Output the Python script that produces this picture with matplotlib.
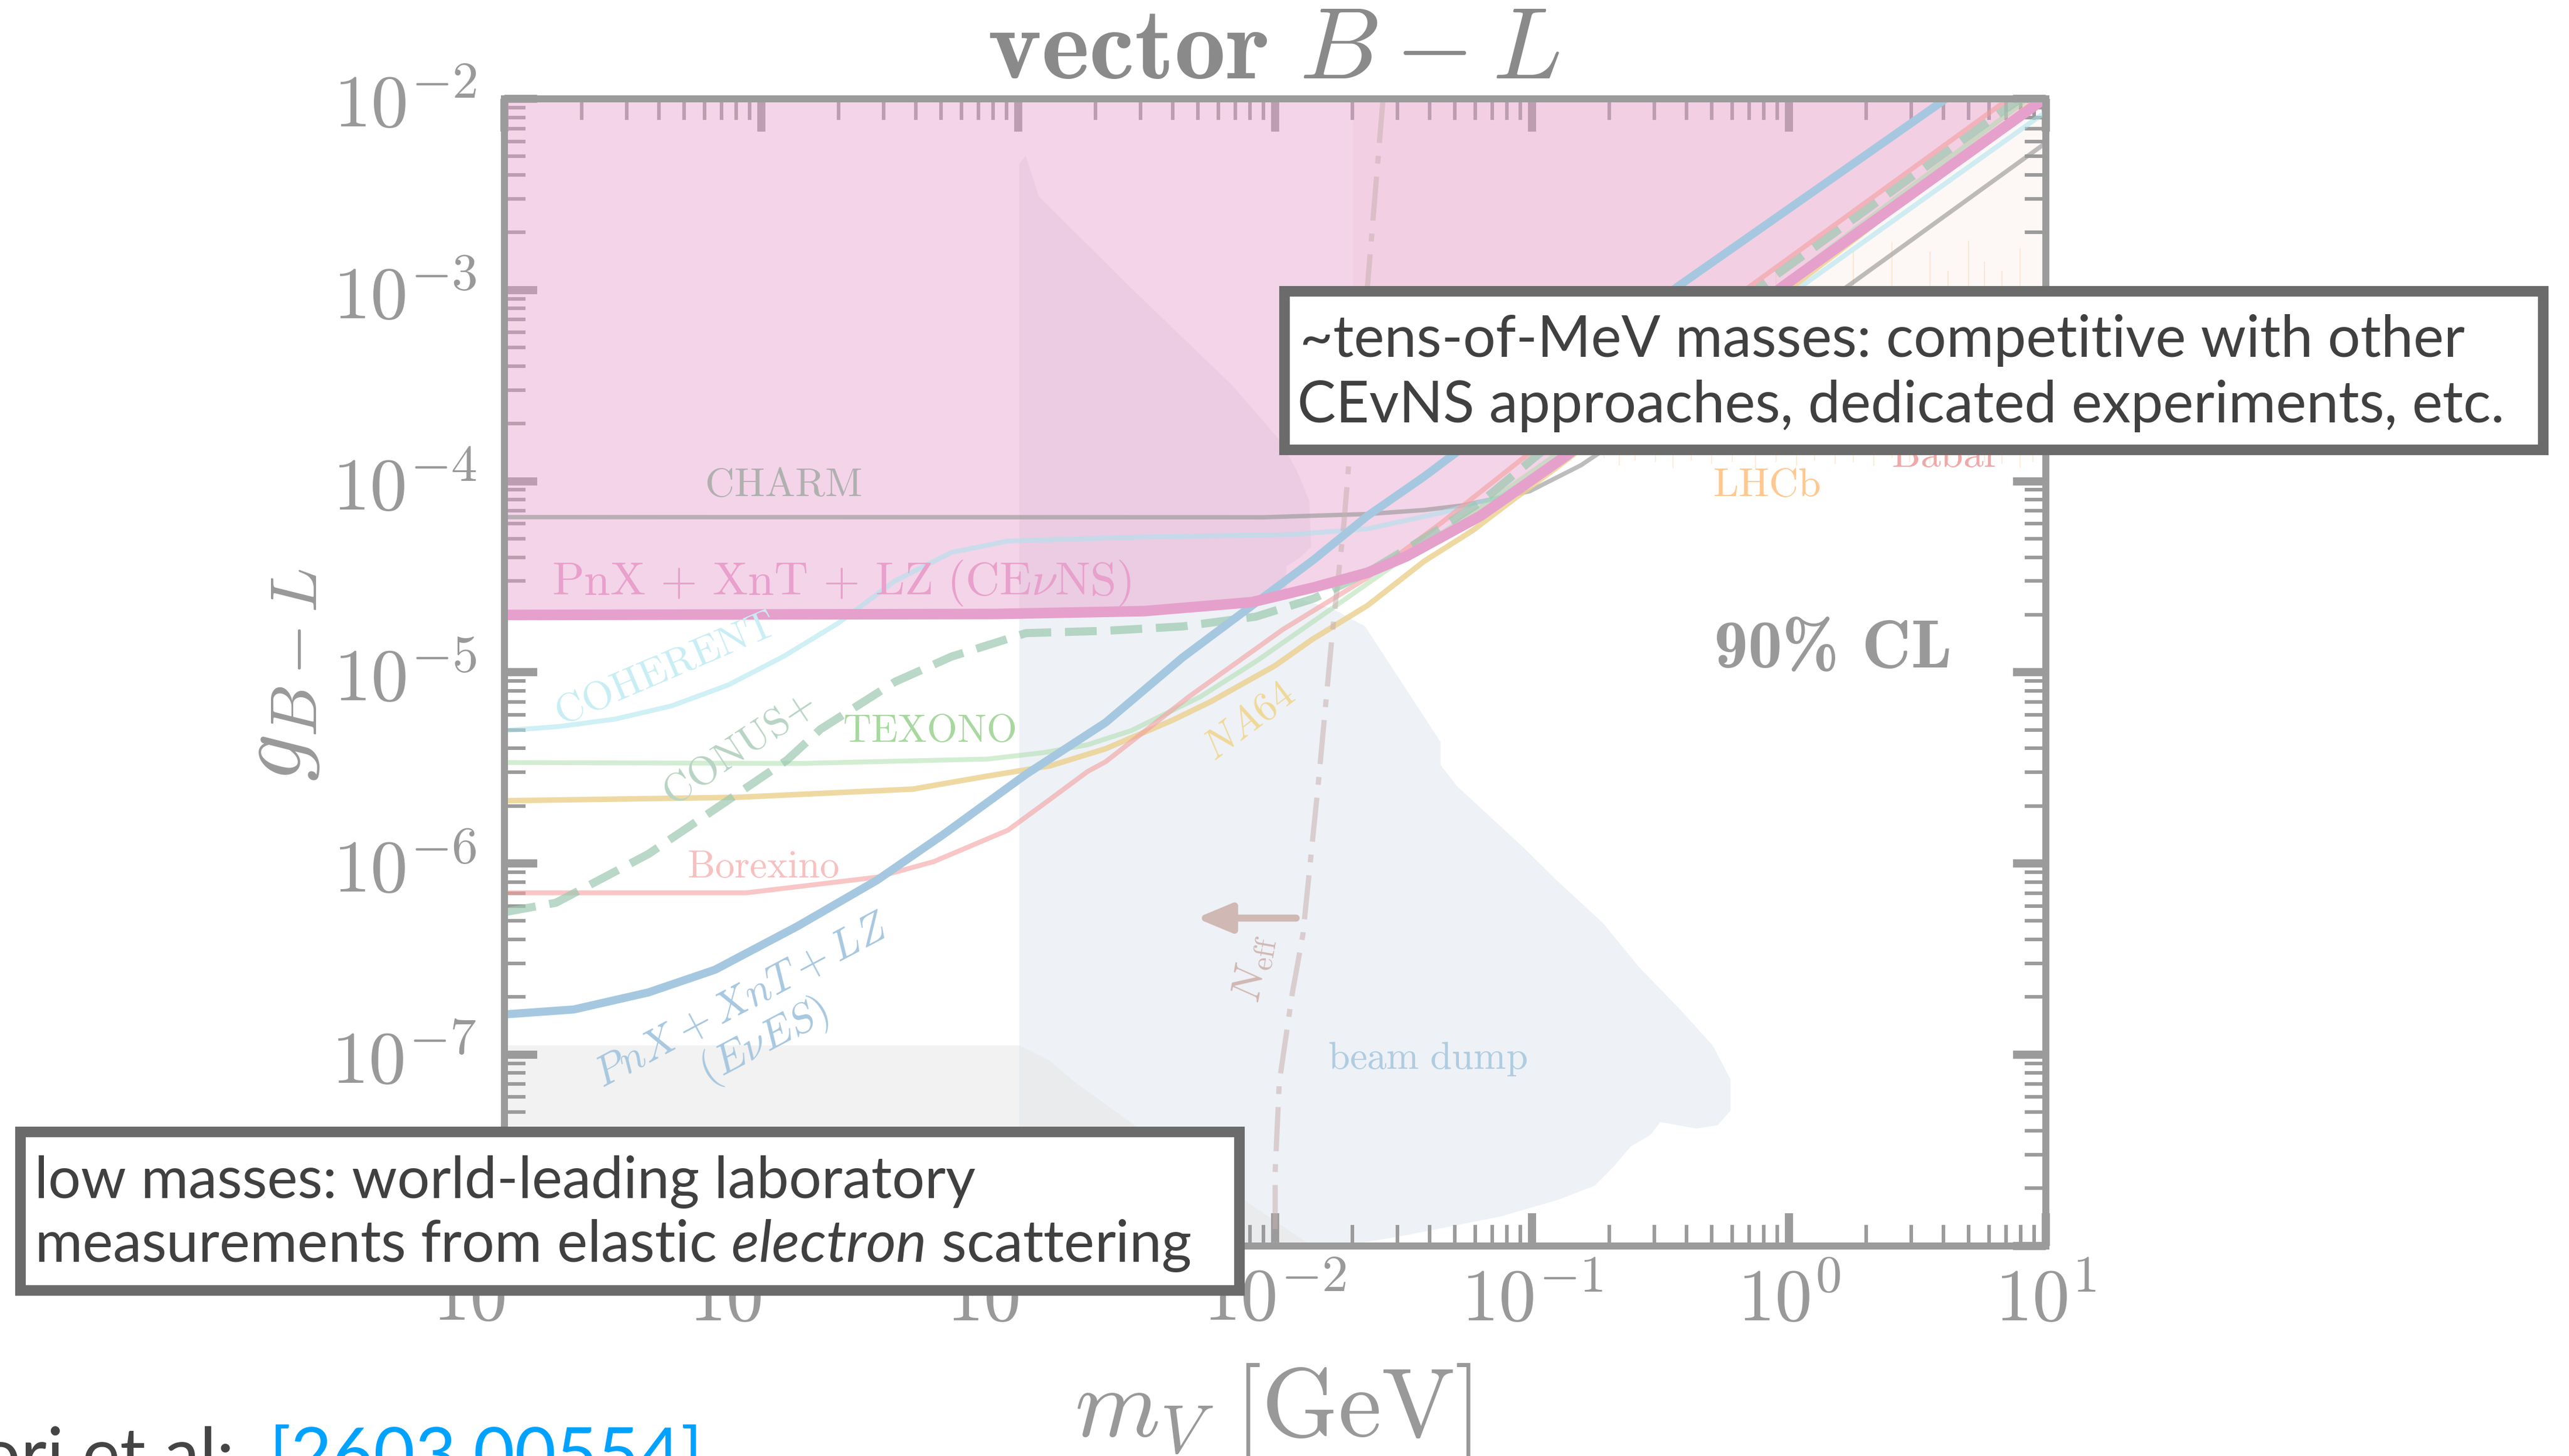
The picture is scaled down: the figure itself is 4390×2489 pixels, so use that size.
import numpy as np
import matplotlib
matplotlib.use("Agg")
import matplotlib.pyplot as plt
from matplotlib.patches import Rectangle
from matplotlib.ticker import LogLocator, FuncFormatter, NullFormatter

plt.rcParams['mathtext.fontset'] = 'cm'
# used only by texts that ask for math_fontfamily='custom'
plt.rcParams['mathtext.rm'] = 'Lato'
plt.rcParams['mathtext.it'] = 'Lato:italic'
plt.rcParams['mathtext.bf'] = 'Lato:bold'

# all curves as log10(m_V / GeV) and log10(g_{B-L})
cevns_m = [-5.0, -3.09, -2.51, -2.09, -1.85, -1.64, -1.49, -1.20, -0.865, -0.02, 0.97, 1.0]
cevns_g = [-4.70, -4.695, -4.68, -4.633, -4.556, -4.479, -4.394, -4.181, -3.865, -2.978, -2.022, -1.99]

eves_m = [-5.0, -4.73, -4.44, -4.18, -3.86, -3.55, -3.29, -2.97, -2.66, -2.36, -2.08, -1.85, -1.64, -1.42, -0.43, 0.58, 0.62]
eves_g = [-6.79, -6.764, -6.675, -6.556, -6.329, -6.088, -5.847, -5.534, -5.263, -4.922, -4.641, -4.411, -4.181, -3.976, -2.979, -2.029, -1.99]

conus_m = [-5.0, -4.80, -4.44, -4.15, -3.90, -3.77, -3.48, -3.26, -2.97, -2.66, -2.36, -2.075, -1.85, -1.64, -1.42, -1.20, -0.98, -0.08, 0.84, 1.0]
conus_g = [-6.255, -6.206, -5.951, -5.688, -5.459, -5.298, -5.050, -4.918, -4.795, -4.783, -4.760, -4.709, -4.614, -4.477, -4.300, -4.110, -3.865, -2.951, -2.056, -1.91]

coherent_m = [-5.0, -4.79, -4.57, -4.35, -4.13, -3.915, -3.70, -3.48, -3.26, -3.04, -2.51, -1.93, -1.64, -1.35, -1.13, -0.91, 0.05, 0.97, 1.0]
coherent_g = [-5.305, -5.284, -5.245, -5.176, -5.067, -4.918, -4.742, -4.522, -4.373, -4.313, -4.292, -4.279, -4.249, -4.164, -4.084, -3.908, -2.979, -2.096, -2.07]

texono_m = [-5.0, -3.85, -3.12, -2.90, -2.73, -2.56, -2.29, -2.07, -1.78, -1.49, -1.20, -0.91, 0.88, 1.0]
texono_g = [-5.472, -5.477, -5.454, -5.420, -5.379, -5.305, -5.127, -4.939, -4.667, -4.394, -4.138, -3.865, -2.05, -1.93]

na64_m = [-5.0, -4.09, -3.41, -3.12, -2.875, -2.66, -2.40, -2.25, -2.0, -1.857, -1.64, -1.42, -1.23, -1.06, -0.91, 0.92, 1.0]
na64_g = [-5.672, -5.654, -5.611, -5.543, -5.489, -5.400, -5.251, -5.153, -4.965, -4.829, -4.650, -4.419, -4.257, -4.083, -3.934, -2.05, -1.97]

borexino_m = [-5.0, -4.06, -3.55, -3.33, -3.04, -2.91, -2.73, -2.66, -2.335, -1.97, -1.64, -1.35, -1.01, -0.15, 0.84, 1.0]
borexino_g = [-6.154, -6.154, -6.072, -5.991, -5.826, -5.698, -5.519, -5.468, -5.127, -4.776, -4.504, -4.215, -3.853, -2.979, -2.014, -1.85]

charm_m = [-5.0, -2.045, -1.64, -1.42, -1.27, -1.01, -0.81, 0.23, 1.0]
charm_g = [-4.188, -4.189, -4.172, -4.151, -4.127, -4.053, -3.917, -2.979, -2.23]

neff_m = [-1.58, -1.64, -1.71, -1.733, -1.778, -1.833, -1.892, -1.934, -1.984, -2.0, -2.0]
neff_g = [-2.0, -2.97, -3.853, -4.232, -4.803, -5.596, -6.372, -6.685, -7.147, -7.616, -8.0]

beamdump_m = [-2.996, -2.996, -2.971, -2.92, -2.556, -2.167, -1.975, -1.911, -1.867, -1.86, -1.905,
              -1.956, -1.956, -1.777, -1.65, -1.356, -1.356, -1.292, -1.031, -0.903, -0.724, -0.584,
              -0.424, -0.297, -0.227, -0.227, -0.278, -0.361, -0.501, -0.539, -0.616, -0.68, -0.756,
              -0.903, -1.126, -1.509, -1.733]
beamdump_g = [-8.0, -2.34, -2.297, -2.51, -2.996, -3.499, -3.797, -3.959, -4.104, -4.343, -4.402,
              -4.445, -4.598, -4.667, -4.76, -5.365, -5.485, -5.596, -5.92, -6.09, -6.312, -6.542,
              -6.764, -6.952, -7.131, -7.293, -7.37, -7.387, -7.353, -7.421, -7.481, -7.583, -7.686,
              -7.762, -7.848, -7.95, -8.0]

other_m = [-5.0, -2.996, -2.88, -2.78, -2.556, -1.86, -5.0]
other_g = [-6.952, -6.952, -7.03, -7.144, -7.361, -8.0, -8.0]

babar_m = [-1.694, 1.0]
babar_g = [-3.81, -3.81]

lhcb_m = [-0.72, -0.66, -0.6, -0.52, -0.45, -0.38, -0.3, -0.22, -0.13, -0.05, 0.03, 0.1, 0.18,
          0.25, 0.33, 0.4, 0.47, 0.55, 0.62, 0.7, 0.76, 0.83, 0.9, 0.95]
lhcb_lo = [-3.88, -3.92, -3.89, -3.90, -3.93, -3.89, -3.91, -3.90, -3.94, -3.90, -3.92, -3.89,
           -3.91, -3.90, -3.92, -3.88, -3.90, -3.91, -3.89, -3.92, -3.90, -3.91, -3.93, -3.90]
lhcb_hi = [-3.5, -3.3, -3.6, -3.2, -3.45, -3.0, -3.4, -3.1, -3.5, -2.9, -3.3, -3.0, -3.2, -2.8,
           -3.1, -2.75, -3.0, -2.8, -2.9, -2.74, -2.85, -2.9, -2.78, -3.0]

neff_arrow = (-1.918, -2.307, -6.286)


def L(a):
    return np.power(10.0, np.asarray(a, dtype=float))


fig = plt.figure(figsize=(21.95, 12.445), dpi=200)
ax = fig.add_axes([0.19636, 0.14443, 0.6, 0.78766])
ax.set_xscale('log')
ax.set_yscale('log')
ax.set_xlim(1e-5, 1e1)
ax.set_ylim(1e-8, 1e-2)

# regions
ax.fill(L(beamdump_m), L(beamdump_g), color='#eef1f6', lw=0, zorder=1)
ax.fill(L(other_m), L(other_g), color='#e6e6e6', alpha=0.5, lw=0, zorder=1.2)
ax.fill_between(L(babar_m), L(babar_g), 1e-2, facecolor='#f0a8a0', alpha=0.09,
                edgecolor='#f4b8b8', lw=0.6, zorder=1.5)
ax.vlines(L(lhcb_m), L(lhcb_lo), L(lhcb_hi), colors='#ffc890', lw=0.6, alpha=0.4, zorder=1.6)
ax.fill_between(L(cevns_m), L(cevns_g), 1e-2, facecolor='#e8a0cc', alpha=0.45, lw=0, zorder=2)

# curves
ax.plot(L(charm_m), L(charm_g), color='#999999', alpha=0.64, lw=2.7, zorder=3)
ax.plot(L(coherent_m), L(coherent_g), color='#a8e4ee', alpha=0.55, lw=3.0, zorder=3)
ax.plot(L(texono_m), L(texono_g), color='#a8dca8', alpha=0.5, lw=3.0, zorder=3)
ax.plot(L(na64_m), L(na64_g), color='#ecd08c', alpha=0.8, lw=3.4, zorder=3)
ax.plot(L(borexino_m), L(borexino_g), color='#f4a0a0', alpha=0.6, lw=3.0, zorder=3)
ax.plot(L(neff_m), L(neff_g), color='#c8b0b0', alpha=0.55, lw=3.2,
        linestyle=(0, (8.5, 2.5, 1.5, 2.5)), zorder=3)
ax.plot(L(conus_m), L(conus_g), color='#9cc8b0', alpha=0.7, lw=5.0,
        linestyle=(0, (3.9, 1.7)), zorder=3.5)
ax.plot(L(eves_m), L(eves_g), color='#a5c8e0', lw=5.0, zorder=4)
ax.plot(L(cevns_m), L(cevns_g), color='#e6a0cc', lw=6.5, zorder=4)

ax.annotate('', xy=(L(neff_arrow[1]), L(neff_arrow[2])), xytext=(L(neff_arrow[0]), L(neff_arrow[2])),
            arrowprops=dict(arrowstyle='-|>,head_length=0.6,head_width=0.25', lw=4.3,
                            color='#d0b8b4', mutation_scale=30, shrinkA=0, shrinkB=0),
            zorder=5)

# curve labels
def lab(lx, ly, s, c, fs=25, rot=0, **kw):
    ax.text(L(lx), L(ly), s, color=c, fontsize=fs, rotation=rot, ha=kw.pop('ha', 'center'),
            va=kw.pop('va', 'center'), zorder=6, **kw)

lab(-3.915, -4.019, r'$\mathrm{CHARM}$', '#b0b0b0', 25)
lab(-4.816, -4.594, r'$\mathrm{PnX}\,+\,\mathrm{XnT}\,+\,\mathrm{LZ}\ (\mathrm{CE}\nu\mathrm{NS})$', '#e8a0cc', 29,
    ha='left', va='baseline')
lab(-4.375, -4.982, r'$\mathrm{COHERENT}$', '#c8eef4', 25, 23)
lab(-4.087, -5.400, r'$\mathrm{CONUS{+}}$', '#b8d4c4', 25, 33.5)
lab(-3.347, -5.306, r'$\mathrm{TEXONO}$', '#a8d8a0', 24)
lab(-3.992, -6.014, r'$\mathrm{Borexino}$', '#f8c0c0', 24)
lab(-2.103, -5.256, r'$\mathit{NA64}$', '#f0d898', 25, 37)
lab(-4.030, -6.834, '$\\mathit{PnX} + \\mathit{XnT} + \\mathit{LZ}$\n$(E\\nu ES)$', '#a8c8e0', 26, 28,
    linespacing=1.1)
lab(-1.407, -7.020, r'$\mathrm{beam\ dump}$', '#b0cce0', 24)
lab(-0.086, -4.019, r'$\mathrm{LHCb}$', '#ffc890', 25)
lab(0.609, -3.866, r'$\mathrm{Babar}$', '#f0a8a8', 25)
lab(0.172, -4.885, '90% CL', '#999999', 42, family='cmb10')
lab(-2.086, -6.551, r'$N_{\mathrm{eff}}$', '#d0b8b4', 26, 80)

# axes styling
gray = '#9b9b9b'
for sp in ax.spines.values():
    sp.set_color(gray)
    sp.set_linewidth(4.3)
    sp.set_zorder(7)
for axis in (ax.xaxis, ax.yaxis):
    axis.set_major_locator(LogLocator(base=10, numticks=20))
    axis.set_minor_locator(LogLocator(base=10, subs=np.arange(2, 10), numticks=100))
    axis.set_major_formatter(FuncFormatter(lambda v, p: r'$10^{%d}$' % int(round(np.log10(v)))))
    axis.set_minor_formatter(NullFormatter())
ax.tick_params(which='both', direction='in', top=True, right=True, color=gray, labelcolor='#999999')
ax.tick_params(which='major', length=20, width=5, labelsize=46)
ax.tick_params(which='minor', length=13, width=2.2)
ax.tick_params(axis='x', which='major', pad=11)
ax.tick_params(axis='y', which='major', pad=17)

fig.text(0.4956, 0.94616, r'$\mathbf{vector}\ B-L$', ha='center', va='baseline', fontsize=63, color='#8a8a8a')
fig.text(0.1075, 0.5365, r'$g_{B-L}$', rotation=90, ha='center', va='center', fontsize=58, color='#999999')
fig.text(0.4954, 0.0137, r'$m_V\ [\mathrm{GeV}]$', ha='center', va='baseline', fontsize=60, color='#999999')

# annotation boxes
box_kw = dict(transform=fig.transFigure, facecolor='white', edgecolor='#6b6b6b', lw=6.5, zorder=8)
fig.add_artist(Rectangle((0.5, 0.69104), 0.48998, 0.10888, **box_kw))
fig.add_artist(Rectangle((0.00797, 0.1137), 0.47449, 0.10888, **box_kw))

txt_kw = dict(family='Lato', fontsize=35.5, color='#404040', va='baseline', ha='left', zorder=9)
fig.text(0.50592, 0.75492, '~tens-of-MeV masses: competitive with other', **txt_kw)
fig.text(0.50501, 0.70993, 'CEvNS approaches, dedicated experiments, etc.', **txt_kw)
fig.text(0.01344, 0.17718, 'low masses: world-leading laboratory', **txt_kw)
fig.text(0.01344, 0.13339, r'measurements from elastic $\mathit{electron}$ scattering',
         math_fontfamily='custom', **txt_kw)

fig.text(0.0911, -0.0155, 'ori et al:', family='Lato', fontsize=44, color='#444444', ha='right', va='baseline')
fig.text(0.10478, -0.0155, '[2603.00554]', family='Lato', fontsize=44, color='#00a2ff', ha='left', va='baseline')

fig.savefig('out.png', dpi=200)
